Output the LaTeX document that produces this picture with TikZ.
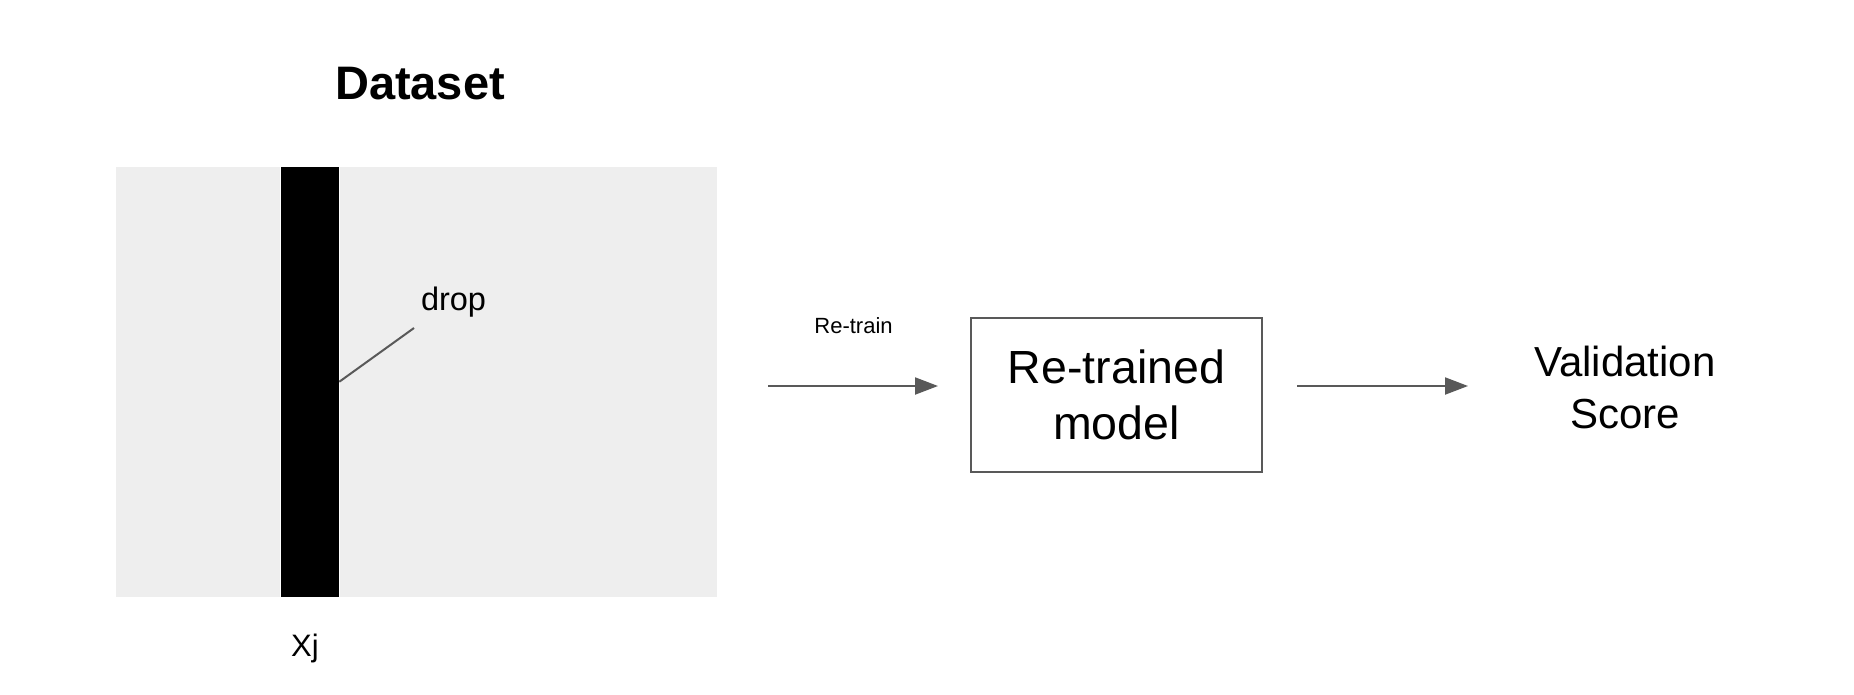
\documentclass[tikz,border=0pt]{standalone}
\usepackage{fontspec}
\setmainfont{Liberation Sans}
\usetikzlibrary{arrows.meta}
\definecolor{linegray}{HTML}{595959}
\definecolor{panel}{HTML}{EEEEEE}
\tikzset{
  conn/.style={draw=linegray, line width=2pt, -{Triangle[length=23pt,width=17pt]}},
  leader/.style={draw=linegray, line width=2pt},
  modelbox/.style={draw=linegray, line width=2pt, fill=white, minimum width=291pt, minimum height=154pt, inner sep=0pt, align=center, font=\fontsize{46.5}{56}\selectfont},
  plain/.style={inner sep=0pt, outer sep=0pt}
}
\begin{document}
\begin{tikzpicture}[x=1pt, y=-1pt]
\useasboundingbox[fill=white] (0,0) rectangle (1854,694);
% dataset panel
\node[plain, fill=panel, minimum width=601pt, minimum height=430.5pt] (panel) at (416.5,381.75) {};
\node[plain, fill=black, draw=white, line width=1pt, minimum width=58.6pt, minimum height=430.5pt] (bar) at (310,381.75) {};
\node[plain, anchor=base, font=\fontsize{47}{56}\bfseries\selectfont] (title) at (420,99) {Dataset};
\node[plain, anchor=base west, font=\fontsize{32.5}{38}\selectfont] (drop) at (421,310) {drop};
\coordinate (dropend) at (414,328);
\draw[leader] (bar.east) -- (dropend);
\node[plain, anchor=base, font=\fontsize{31}{37}\selectfont] (xj) at (305,656) {Xj};
% pipeline
\node[plain, anchor=base, font=\fontsize{22}{26}\selectfont] (retrain) at (853.5,333) {Re-train};
\coordinate (a1start) at (768,386);
\node[modelbox] (model) at (1116.5,394.5) {Re-trained\\model};
\node[plain, align=center, font=\fontsize{42}{52}\selectfont] (score) at (1625,387) {Validation\\Score};
\draw[conn] (a1start) -- (a1start -| model.west) [shorten >=32pt];
\coordinate (a2end) at (1468,386);
\draw[conn] (model.east |- a2end) [shorten <=34pt] -- (a2end);
\end{tikzpicture}
\end{document}
